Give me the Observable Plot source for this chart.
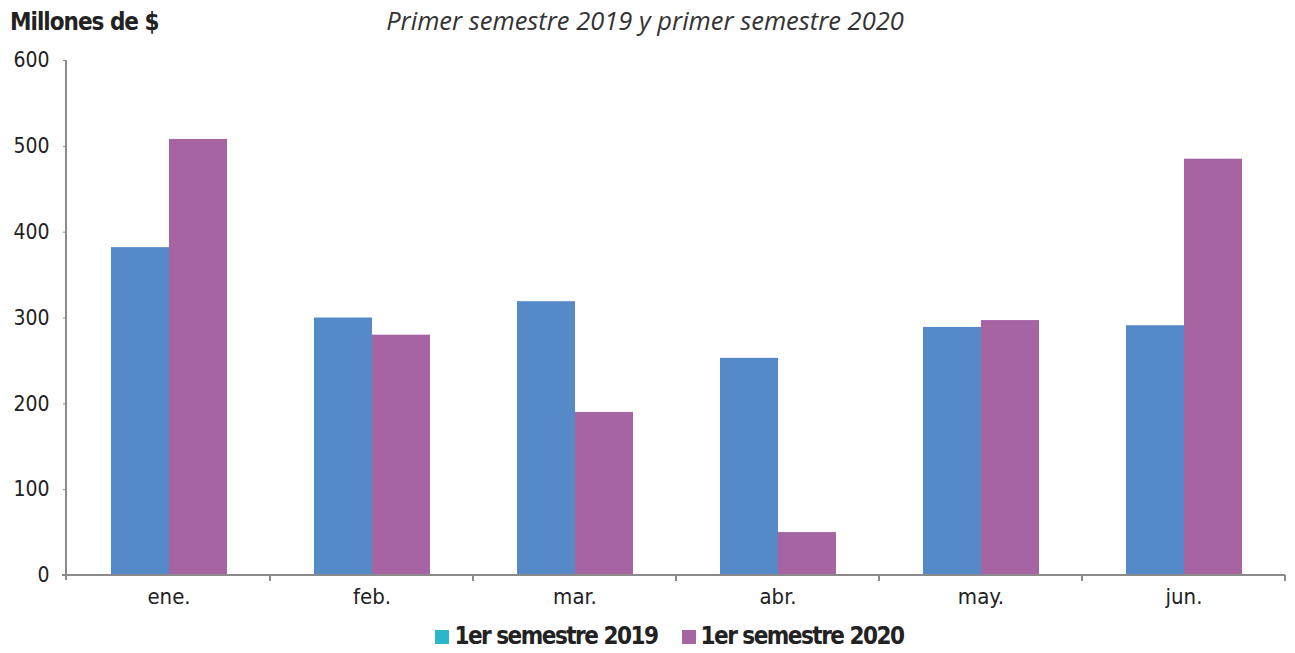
<!DOCTYPE html>
<html>
<head>
<meta charset="utf-8">
<script src="https://cdn.jsdelivr.net/npm/d3@7"></script>
<script src="https://cdn.jsdelivr.net/npm/@observablehq/plot@0.6"></script>
<style>
  html, body { margin: 0; padding: 0; background: #fff; }
  #wrap { position: relative; width: 1295px; height: 653px; }
  .cond { font-family: "DejaVu Sans Condensed", "DejaVu Sans", sans-serif; font-stretch: condensed; }
  #title { position: absolute; left: 10px; top: 8px; font-weight: bold; font-size: 24px; color: #222; letter-spacing: -1px; }
  #subtitle { position: absolute; left: 0; width: 1290px; top: 3px; text-align: center; font-family: "Open Sans", sans-serif; font-style: italic; font-size: 25.5px; color: #333; }
  #chart { position: absolute; left: 0; top: 0; }
  #legend { position: absolute; left: 22px; width: 1295px; top: 622px; text-align: center; font-weight: bold; font-size: 24px; color: #222; letter-spacing: -1.5px; }
  #legend span.item { margin: 0 12px; white-space: nowrap; }
  #legend span.sw { display: inline-block; width: 14px; height: 14px; margin-right: 5px; vertical-align: 0px; }
</style>
</head>
<body>
<div id="wrap">
  <div id="chart"></div>
  <div id="title" class="cond">Millones de $</div>
  <div id="subtitle">Primer semestre 2019 y primer semestre 2020</div>
  <div id="legend" class="cond"></div>
</div>
<script>
const months = ["ene.", "feb.", "mar.", "abr.", "may.", "jun."];
const seriesNames = ["1er semestre 2019", "1er semestre 2020"];
const values2019 = [382, 300, 319, 253, 289, 291];
const values2020 = [508, 280, 190, 50, 297, 485];
const yTicks = [0, 100, 200, 300, 400, 500, 600];
const barColors = ["#5589c8", "#a764a3"];
const legendColors = ["#2bb7c9", "#a764a3"];

const data = [];
months.forEach((m, i) => {
  data.push({month: m, series: seriesNames[0], value: values2019[i]});
  data.push({month: m, series: seriesNames[1], value: values2020[i]});
});

const W = 1295, H = 612;
const mL = 66, mR = 10, mT = 60, mB = 37;

const plot = Plot.plot({
  width: W,
  height: H,
  marginLeft: mL,
  marginRight: mR,
  marginTop: mT,
  marginBottom: mB,
  style: {fontFamily: "'DejaVu Sans Condensed', 'DejaVu Sans', sans-serif", fontStretch: "condensed", fontSize: "21px", color: "#222", background: "#fff"},
  fx: {domain: months, padding: 0, label: null, axis: null},
  x: {domain: seriesNames, paddingInner: 0, paddingOuter: 0.743, axis: null},
  y: {domain: [0, 600], ticks: yTicks, label: null, axis: null},
  color: {domain: seriesNames, range: barColors},
  marks: [
    Plot.barY(data, {fx: "month", x: "series", y: "value", fill: "series", inset: 0}),
    Plot.axisY({ticks: yTicks, tickSize: 4, tickPadding: 14, stroke: "#888", fontSize: 21, fill: "#222", label: null, facetAnchor: "left", tickFormat: d => d}),
    Plot.axisFx({domain: months, tickSize: 0, tickPadding: 13, fontSize: 22, label: null, anchor: "bottom"})
  ]
});

document.getElementById("chart").appendChild(plot);

// axis lines and boundary ticks, derived from the plot's scales
const svg = d3.select(plot);
const fx = plot.scale("fx");
const y = plot.scale("y");
const y0 = y.apply(0), yTop = y.apply(600);
const g = svg.append("g").attr("stroke", "#8a8a8a").attr("stroke-width", 2).attr("fill", "none");
g.append("line").attr("x1", mL).attr("x2", mL).attr("y1", yTop).attr("y2", y0 + 5);
g.append("line").attr("x1", mL - 4).attr("x2", W - mR).attr("y1", y0).attr("y2", y0);
months.forEach(m => {
  const x0 = fx.apply(m);
  const xe = x0 + fx.bandwidth;
  g.append("line").attr("x1", xe).attr("x2", xe).attr("y1", y0).attr("y2", y0 + 6);
});

// legend
const leg = document.getElementById("legend");
seriesNames.forEach((s, i) => {
  const item = document.createElement("span");
  item.className = "item";
  const sw = document.createElement("span");
  sw.className = "sw";
  sw.style.background = legendColors[i];
  item.appendChild(sw);
  item.appendChild(document.createTextNode(s));
  leg.appendChild(item);
});
</script>
</body>
</html>
